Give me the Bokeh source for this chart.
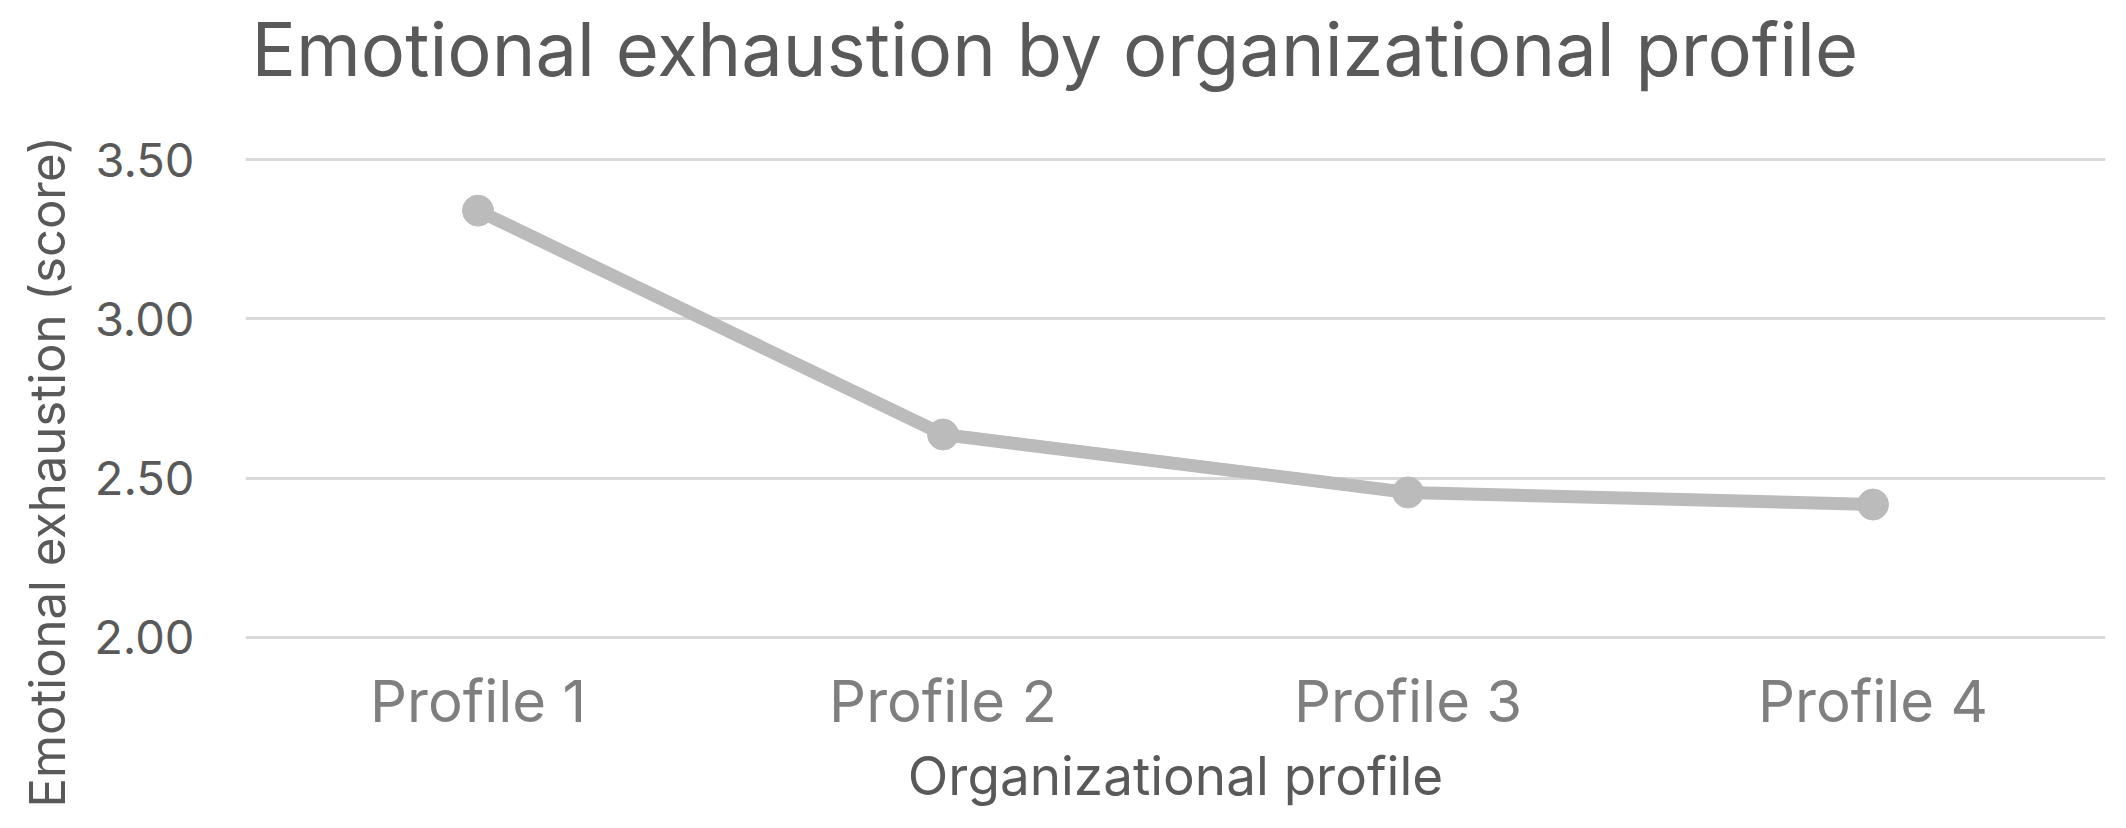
from bokeh.plotting import figure
from bokeh.models import Range1d, FixedTicker, CustomJSTickFormatter, Title
from bokeh.embed import file_html
from bokeh.resources import INLINE

profiles = ["Profile 1", "Profile 2", "Profile 3", "Profile 4"]
scores = [3.34, 2.637, 2.455, 2.417]
y_ticks = [2.0, 2.5, 3.0, 3.5]

FONT = "Inter"

W, H = 2110, 812
p = figure(x_range=profiles, y_range=Range1d(1.99, 3.51),
           width=W, height=H, output_backend="svg", toolbar_location=None,
           min_border_left=241, min_border_right=W - 2105,
           min_border_top=156, min_border_bottom=H - 640)

# thin spacer between the frame and the chart title
spacer = Title(text=" ", text_font_size="1px", standoff=60, text_color="#FFFFFF")
p.add_layout(spacer, "above")
main_title = Title(text="Emotional exhaustion by organizational profile", align="left",
                   text_font=FONT, text_font_size="74px", text_font_style="normal",
                   text_color="#595959", offset=6, standoff=0)
p.add_layout(main_title, "above")

p.line(profiles, scores, line_color="#BBBBBB", line_width=13, line_join="round")
p.scatter(profiles, scores, size=31, fill_color="#BBBBBB", line_color="#BBBBBB")

p.outline_line_color = None
p.xgrid.grid_line_color = None
p.ygrid.grid_line_color = "#D9D9D9"
p.ygrid.grid_line_width = 3

p.yaxis.ticker = FixedTicker(ticks=y_ticks)
p.yaxis.formatter = CustomJSTickFormatter(code="return tick.toFixed(2);")

for ax in (p.xaxis, p.yaxis):
    ax.axis_line_color = None
    ax.major_tick_line_color = None
    ax.minor_tick_line_color = None
    ax.major_tick_out = 0
    ax.minor_tick_out = 0

p.yaxis.major_label_text_font = FONT
p.yaxis.major_label_text_font_size = "47px"
p.yaxis.major_label_text_color = "#595959"
p.yaxis.major_label_standoff = 51

ytitle = Title(text="Emotional exhaustion (score)", align="left", offset=-167,
               standoff=30, text_font=FONT, text_font_size="49px",
               text_font_style="normal", text_color="#595959")
p.add_layout(ytitle, "left")

p.xaxis.major_label_text_font = FONT
p.xaxis.major_label_text_font_size = "58px"
p.xaxis.major_label_text_color = "#7F7F7F"
p.xaxis.major_label_standoff = 25
p.xaxis.axis_label = "Organizational profile"
p.xaxis.axis_label_text_font = FONT
p.xaxis.axis_label_text_font_size = "53px"
p.xaxis.axis_label_text_font_style = "normal"
p.xaxis.axis_label_text_color = "#595959"
p.xaxis.axis_label_standoff = 5

open("out.html", "w").write(file_html(p, INLINE))
